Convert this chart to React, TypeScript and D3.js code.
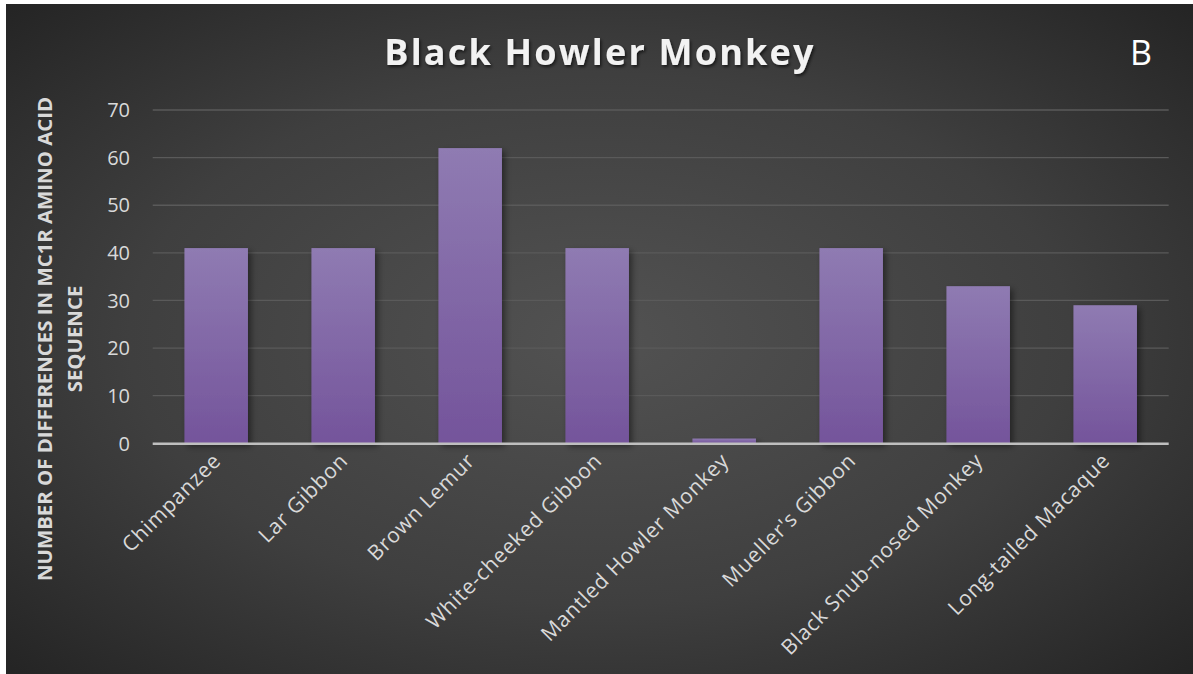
import React from "react";
import * as d3 from "d3";

const categories = [
  "Chimpanzee",
  "Lar Gibbon",
  "Brown Lemur",
  "White-cheeked Gibbon",
  "Mantled Howler Monkey",
  "Mueller's Gibbon",
  "Black Snub-nosed Monkey",
  "Long-tailed Macaque",
];
const values = [41, 41, 62, 41, 1, 41, 33, 29];
const yTicks = [0, 10, 20, 30, 40, 50, 60, 70];
const title = "Black Howler Monkey";
const panelLetter = "B";
const yTitleLines = ["NUMBER OF DIFFERENCES IN MC1R AMINO ACID", "SEQUENCE"];

const W = 1193;
const H = 674;
const plot = { left: 152.7, right: 1168.7, top: 110, bottom: 443.3 };
const FONT = "'Open Sans', 'Noto Sans', sans-serif";

export default function App() {
  const x = d3
    .scaleBand<string>()
    .domain(categories)
    .range([plot.left, plot.right])
    .paddingInner(0.5)
    .paddingOuter(0.25);
  const y = d3.scaleLinear().domain([0, 70]).range([plot.bottom, plot.top]);
  const yMid = 339;

  return (
    <svg
      width={W}
      height={H}
      style={{ position: "absolute", left: 0, top: 0, display: "block" }}
      fontFamily={FONT}
    >
      <defs>
        <radialGradient id="bg" cx="0.5" cy="0.5" r="0.72">
          <stop offset="0" stopColor="#525252" />
          <stop offset="0.55" stopColor="#3f3f3f" />
          <stop offset="1" stopColor="#232323" />
        </radialGradient>
        <linearGradient id="barGrad" x1="0" y1="0" x2="0" y2="1">
          <stop offset="0" stopColor="#8f7bb2" />
          <stop offset="1" stopColor="#74549b" />
        </linearGradient>
        <filter id="barShadow" x="-20%" y="-20%" width="150%" height="150%">
          <feDropShadow dx="3" dy="3" stdDeviation="3" floodColor="#000" floodOpacity="0.45" />
        </filter>
        <filter id="titleShadow" x="-10%" y="-30%" width="120%" height="160%">
          <feDropShadow dx="1.5" dy="2" stdDeviation="1.5" floodColor="#000" floodOpacity="0.6" />
        </filter>
      </defs>
      <rect x={0} y={0} width={W} height={H} fill="#ffffff" />
      <rect x={6} y={4} width={W - 6} height={H - 4} fill="url(#bg)" />

      {/* gridlines */}
      {yTicks
        .filter((t) => t !== 0)
        .map((t) => (
          <line
            key={t}
            x1={plot.left}
            x2={plot.right}
            y1={y(t)}
            y2={y(t)}
            stroke="#5a5a5a"
            strokeWidth={1.3}
          />
        ))}

      {/* y tick labels */}
      {yTicks.map((t) => (
        <text
          key={t}
          x={130}
          y={y(t)}
          dy="0.36em"
          textAnchor="end"
          fontSize={20}
          fill="#d9d9d9"
        >
          {t}
        </text>
      ))}

      {/* bars */}
      {categories.map((c, i) => (
        <rect
          key={c}
          x={x(c)!}
          y={y(values[i])}
          width={x.bandwidth()}
          height={y(0) - y(values[i])}
          fill="url(#barGrad)"
          filter="url(#barShadow)"
        />
      ))}

      {/* axis line */}
      <line
        x1={plot.left}
        x2={plot.right}
        y1={plot.bottom + 0.5}
        y2={plot.bottom + 0.5}
        stroke="#bfbfbf"
        strokeWidth={2.5}
      />

      {/* category labels */}
      {categories.map((c) => {
        const cx = x(c)! + x.bandwidth() / 2 + 6;
        const cy = 462;
        return (
          <text
            key={c}
            transform={`translate(${cx},${cy}) rotate(-45)`}
            textAnchor="end"
            fontSize={21}
            letterSpacing={0.75}
            fill="#d9d9d9"
          >
            {c}
          </text>
        );
      })}

      {/* y axis title */}
      <text
        transform={`translate(45,${yMid}) rotate(-90)`}
        textAnchor="middle"
        dy="0.35em"
        fontSize={20.4}
        fontWeight="bold"
        fill="#d9d9d9"
      >
        {yTitleLines[0]}
      </text>
      <text
        transform={`translate(75,${yMid}) rotate(-90)`}
        textAnchor="middle"
        dy="0.35em"
        fontSize={20.4}
        fontWeight="bold"
        fill="#d9d9d9"
      >
        {yTitleLines[1]}
      </text>

      {/* title */}
      <text
        x={600}
        y={65}
        textAnchor="middle"
        fontSize={36}
        fontWeight="bold"
        letterSpacing={2.2}
        fill="#f2f2f2"
        filter="url(#titleShadow)"
      >
        {title}
      </text>

      {/* panel letter */}
      <text x={1141} y={65} textAnchor="middle" fontSize={34} fill="#ffffff">
        {panelLetter}
      </text>
    </svg>
  );
}
